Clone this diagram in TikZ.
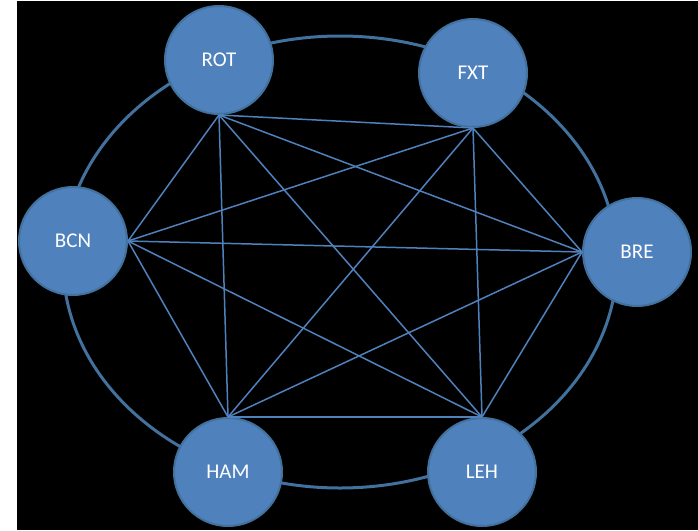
\documentclass[tikz,border=0pt]{standalone}
\usepackage{fontspec}
\setmainfont{Carlito}
\definecolor{nodefill}{HTML}{4F81BD}
\definecolor{nodeedge}{HTML}{41719C}
\definecolor{linkcol}{HTML}{4F81BD}
\begin{document}
\begin{tikzpicture}[x=1pt,y=-1pt,
  city/.style={circle,fill=nodefill,draw=nodeedge,line width=2pt,minimum size=108pt,inner sep=0pt,
    text=white,font=\fontsize{21}{21}\selectfont},
  link/.style={draw=linkcol,line width=1.5pt},
  ring/.style={draw=nodeedge,line width=3pt}]
\useasboundingbox (0,0) rectangle (698,530);
\fill[white] (0,0) rectangle (698,530);
\fill[black] (17,1) rectangle (698,530);
\draw[ring] (340,262) ellipse [x radius=277pt, y radius=226pt];
\node[city] (ROT) at (219,60) {ROT};
\node[city] (FXT) at (473,73) {FXT};
\node[city] (BCN) at (73,241) {BCN};
\node[city] (BRE) at (637,252) {BRE};
\node[city] (HAM) at (228,472) {HAM};
\node[city] (LEH) at (482,472) {LEH};
\foreach \a/\b in {ROT.south/FXT.south, ROT.south/BCN.east, ROT.south/BRE.west, ROT.south/HAM.north, ROT.south/LEH.north,
  FXT.south/BCN.east, FXT.south/BRE.west, FXT.south/HAM.north, FXT.south/LEH.north,
  BCN.east/BRE.west, BCN.east/HAM.north, BCN.east/LEH.north,
  BRE.west/HAM.north, BRE.west/LEH.north, HAM.north/LEH.north}
  \draw[link] (\a) -- (\b);
\end{tikzpicture}
\end{document}
